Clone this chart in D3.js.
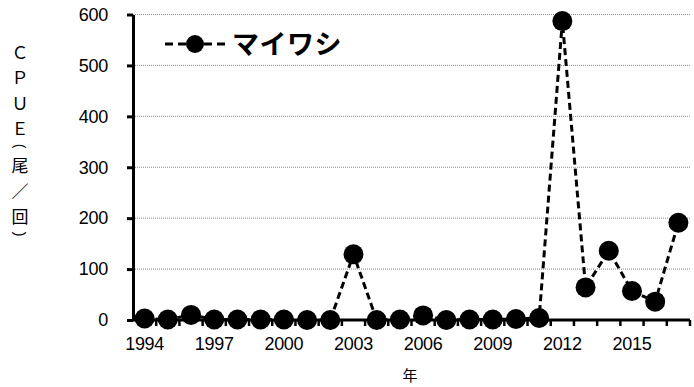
<!DOCTYPE html>
<html>
<head>
<meta charset="utf-8">
<script src="https://cdn.jsdelivr.net/npm/d3@7"></script>
<style>
  html, body { margin: 0; padding: 0; background: #fff; }
  svg { display: block; }
</style>
</head>
<body>
<svg id="chart" width="694" height="387"></svg>
<script>
// CPUE of マイワシ by year
const years = d3.range(1994, 2018).map(String);
const cpue = [3, 1, 10, 1, 1, 1, 1, 0, 0, 129, 0, 1, 9, 0, 1, 1, 2, 4, 587, 64, 136, 57, 36, 191];
const yTicks = [0, 100, 200, 300, 400, 500, 600];
const xLabelYears = ["1994", "1997", "2000", "2003", "2006", "2009", "2012", "2015"];
const seriesName = "マイワシ";
const yTitleChars = ["Ｃ", "Ｐ", "Ｕ", "Ｅ", "(", "尾", "／", "回", ")"];
const xTitle = "年";

const svg = d3.select("#chart");
const plot = { left: 133, right: 690, top: 14.5, bottom: 320 };

const x = d3.scaleBand().domain(years).range([plot.left, plot.right]).padding(0);
const y = d3.scaleLinear().domain([0, 600]).range([plot.bottom, plot.top]);

const numFont = "'Liberation Sans', Arial, sans-serif";
const cjkFont = "'Noto Sans CJK JP', sans-serif";

// dotted horizontal gridlines
svg.append("g")
  .selectAll("line")
  .data(yTicks.filter(d => d > 0))
  .join("line")
  .attr("x1", plot.left).attr("x2", plot.right)
  .attr("y1", d => y(d)).attr("y2", d => y(d))
  .attr("stroke", "#8a8a8a")
  .attr("stroke-width", 1)
  .attr("stroke-dasharray", "1,1");

// y axis
const yAxis = svg.append("g")
  .attr("transform", `translate(${plot.left},0)`)
  .call(d3.axisLeft(y).tickValues(yTicks).tickSize(6).tickPadding(19).tickSizeOuter(0));
yAxis.select(".domain").attr("stroke", "#000").attr("stroke-width", 3);
yAxis.selectAll(".tick line").attr("stroke", "#000").attr("stroke-width", 3);
yAxis.selectAll(".tick text")
  .attr("font-family", numFont).attr("font-size", 18)
  .attr("letter-spacing", -0.3)
  .attr("fill", "#000");

// x axis: ticks on category boundaries, labels every third year
const xAxisG = svg.append("g").attr("transform", `translate(0,${plot.bottom})`);
xAxisG.append("line")
  .attr("x1", plot.left).attr("x2", plot.right)
  .attr("y1", 0).attr("y2", 0)
  .attr("stroke", "#000").attr("stroke-width", 3);
const boundaries = years.map(d => x(d)).concat([x(years[years.length - 1]) + x.bandwidth()]);
xAxisG.selectAll("line.tick")
  .data(boundaries.slice(1))
  .join("line")
  .attr("class", "tick")
  .attr("x1", d => d).attr("x2", d => d)
  .attr("y1", 0).attr("y2", 6)
  .attr("stroke", "#000").attr("stroke-width", 2.5);
xAxisG.selectAll("text")
  .data(xLabelYears)
  .join("text")
  .attr("x", d => x(d) + x.bandwidth() / 2)
  .attr("y", 30)
  .attr("text-anchor", "middle")
  .attr("font-family", numFont).attr("font-size", 18)
  .attr("letter-spacing", -0.3)
  .attr("fill", "#000")
  .text(d => d);

// series line
const line = d3.line()
  .x((d, i) => x(years[i]) + x.bandwidth() / 2)
  .y(d => y(d));
svg.append("path")
  .datum(cpue)
  .attr("d", line)
  .attr("fill", "none")
  .attr("stroke", "#000")
  .attr("stroke-width", 3)
  .attr("stroke-dasharray", "7,4");

// markers
svg.append("g")
  .selectAll("circle")
  .data(cpue)
  .join("circle")
  .attr("cx", (d, i) => x(years[i]) + x.bandwidth() / 2)
  .attr("cy", d => y(d))
  .attr("r", 10)
  .attr("fill", "#000");

// legend
const lg = svg.append("g").attr("transform", "translate(165,44)");
lg.append("line")
  .attr("x1", 0).attr("x2", 60).attr("y1", 0).attr("y2", 0)
  .attr("stroke", "#000").attr("stroke-width", 3)
  .attr("stroke-dasharray", "8,5");
lg.append("circle").attr("cx", 30).attr("cy", 0).attr("r", 9).attr("fill", "#000");
lg.append("text")
  .attr("x", 67).attr("y", 10)
  .attr("font-family", cjkFont).attr("font-weight", "bold")
  .attr("font-size", 27)
  .attr("letter-spacing", 0.5)
  .attr("fill", "#000")
  .text(seriesName);

// y title, stacked one character per line; brackets are turned a quarter
// so they read as vertical brackets and take a shorter step
const yTitleG = svg.append("g");
const isBracket = ch => ch === "(" || ch === ")";
let cy = 51;
yTitleChars.forEach((ch, i) => {
  if (i > 0) cy += (isBracket(ch) || isBracket(yTitleChars[i - 1])) ? 18.5 : 25.5;
  yTitleG.append("text")
    .attr("transform", isBracket(ch) ? `translate(20,${cy}) rotate(90)` : `translate(20,${cy})`)
    .attr("text-anchor", "middle")
    .attr("dominant-baseline", "central")
    .attr("font-family", isBracket(ch) ? numFont : cjkFont)
    .attr("font-size", isBracket(ch) ? 14 : 17)
    .attr("fill", "#000")
    .text(ch);
});

// x title
svg.append("text")
  .attr("x", 410).attr("y", 381)
  .attr("text-anchor", "middle")
  .attr("font-family", cjkFont).attr("font-size", 15)
  .attr("fill", "#000")
  .text(xTitle);
</script>
</body>
</html>
